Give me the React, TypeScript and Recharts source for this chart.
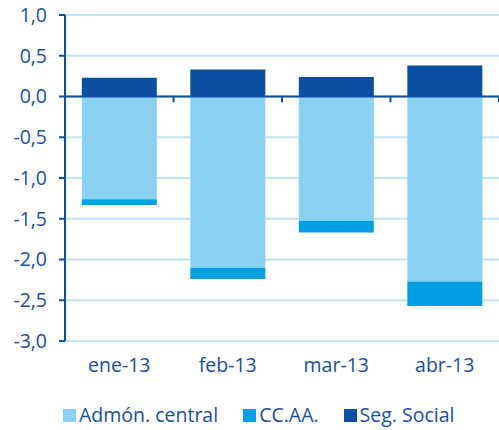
import React from 'react';
import { BarChart, Bar, XAxis, YAxis, CartesianGrid, Legend, ReferenceLine } from 'recharts';

const categories = ['ene-13', 'feb-13', 'mar-13', 'abr-13'];
const admonCentral = [-1.26, -2.1, -1.525, -2.27];
const ccaa = [-0.07, -0.14, -0.145, -0.3];
const segSocial = [0.23, 0.33, 0.24, 0.38];
const yTicks = [-3, -2.5, -2, -1.5, -1, -0.5, 0, 0.5, 1];

const seriesNames = ['Admón. central', 'CC.AA.', 'Seg. Social'];
const colors = ['#89d0f1', '#009fe3', '#0a4fa2'];

const data = categories.map((c, i) => ({
  name: c,
  adm: admonCentral[i],
  ccaa: ccaa[i],
  ss: segSocial[i],
}));

const TEXT = '#1b4f9c';
const AXIS = '#0d4ea0';
const FONT = '"Open Sans", sans-serif';

const LegendContent = (props: any) => {
  const payload = props.payload || [];
  return (
    <div style={{ display: 'flex', paddingLeft: 63, height: 24, alignItems: 'center', fontFamily: FONT }}>
      {payload.map((p: any, i: number) => (
        <div key={i} style={{ display: 'flex', alignItems: 'center', marginRight: 25 }}>
          <div style={{ width: 13, height: 13, background: p.color, marginRight: 3 }} />
          <span style={{ color: TEXT, fontSize: 19.5, lineHeight: '24px' }}>{p.value}</span>
        </div>
      ))}
    </div>
  );
};

export default function App() {
  return (
    <div style={{ position: 'absolute', left: 0, top: 0, width: 499, height: 430, background: '#fff' }}>
      <BarChart
        width={499}
        height={430}
        data={data}
        stackOffset="sign"
        barCategoryGap="15.5%"
        margin={{ top: 15, right: 0, left: 0, bottom: 3 }}
      >
        <CartesianGrid vertical={false} stroke="#bfe6f7" strokeWidth={2} />
        <XAxis
          dataKey="name"
          axisLine={false}
          tickLine={false}
          height={62}
          tickMargin={11}
          tick={{ fill: TEXT, fontSize: 19.5, fontFamily: FONT }}
          interval={0}
        />
        <YAxis
          width={65}
          domain={[-3, 1]}
          ticks={yTicks}
          interval={0}
          allowDataOverflow
          tickFormatter={(v: number) => v.toFixed(1).replace('.', ',')}
          axisLine={{ stroke: AXIS, strokeWidth: 2 }}
          tickLine={{ stroke: AXIS, strokeWidth: 2 }}
          tickSize={6}
          tickMargin={12}
          tick={{ fill: TEXT, fontSize: 19.5, fontFamily: FONT }}
        />
        <ReferenceLine y={0} stroke={AXIS} strokeWidth={2} />
        {categories.map((c) => (
          <ReferenceLine
            key={c}
            segment={[{ x: c, y: 0 }, { x: c, y: -0.07 }]}
            position="end"
            stroke={AXIS}
            strokeWidth={2}
          />
        ))}
        <Bar dataKey="adm" name={seriesNames[0]} stackId="a" fill={colors[0]} isAnimationActive={false} />
        <Bar dataKey="ccaa" name={seriesNames[1]} stackId="a" fill={colors[1]} isAnimationActive={false} />
        <Bar dataKey="ss" name={seriesNames[2]} stackId="a" fill={colors[2]} isAnimationActive={false} />
        <Legend
          verticalAlign="bottom"
          content={<LegendContent />}
          wrapperStyle={{ left: 0, width: 499 }}
        />
      </BarChart>
    </div>
  );
}
